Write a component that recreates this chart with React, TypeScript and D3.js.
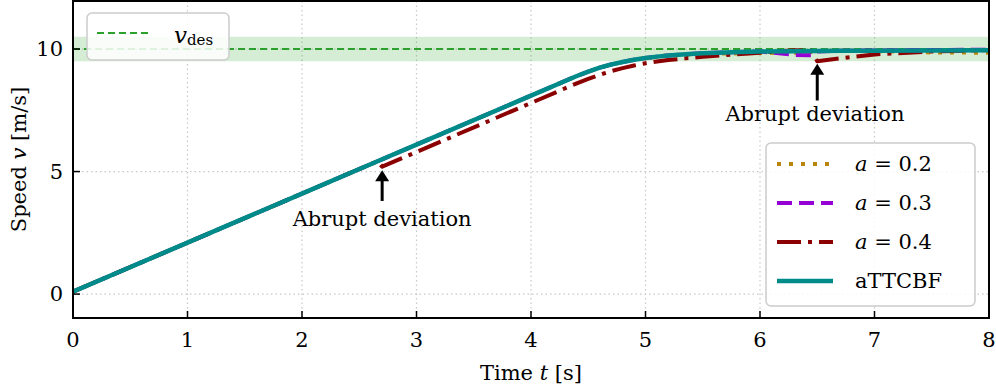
import React from 'react';
import * as d3 from 'd3';

// time samples (s)
const timeA = [0, 1, 2, 2.66, 2.7, 3, 4, 4.4, 4.5, 4.6, 4.7, 4.8, 4.9, 5.0, 5.1, 5.2, 5.35, 5.5, 5.75, 6.0, 6.3, 6.45, 6.5, 6.7, 7.0, 7.5, 8.0];
// speed values (m/s) for each series, same sampling as timeA
const aTTCBF = [0.1, 2.1, 4.1, 5.42, 5.5, 6.1, 8.1, 8.9, 9.08, 9.24, 9.37, 9.47, 9.56, 9.63, 9.69, 9.74, 9.79, 9.83, 9.87, 9.9, 9.91, 9.92, 9.92, 9.93, 9.93, 9.94, 9.95];
const a02 = [0.1, 2.1, 4.1, 5.42, 5.5, 6.1, 8.1, 8.9, 9.08, 9.24, 9.37, 9.47, 9.56, 9.63, 9.69, 9.74, 9.77, 9.8, 9.82, 9.84, 9.85, 9.9, 9.92, 9.93, 9.92, 9.86, 9.85];
const a03 = [0.1, 2.1, 4.1, 5.42, 5.5, 6.1, 8.1, 8.9, 9.08, 9.24, 9.37, 9.47, 9.56, 9.63, 9.69, 9.74, 9.79, 9.83, 9.87, 9.9, 9.76, 9.75, 9.9, 9.93, 9.94, 9.96, 9.97];
const a04 = [0.1, 2.1, 4.1, 5.42, 5.2, 5.8, 7.8, 8.6, 8.78, 8.95, 9.1, 9.22, 9.33, 9.42, 9.49, 9.55, 9.62, 9.68, 9.77, 9.85, 9.95, 9.93, 9.5, 9.62, 9.78, 9.9, 9.96];

const xTicks = [0, 1, 2, 3, 4, 5, 6, 7, 8];
const yTicks = [0, 5, 10];
const vDes = 10;
const vBand = 0.5;

const W = 996;
const H = 389;
const left = 73;
const right = 989;
const top = 1;
const bottom = 318;
const FONT = 'DejaVu Serif, serif';
const FS = 21;

export default function App() {
  const x = d3.scaleLinear().domain([0, 8]).range([left, right]);
  const y = d3.scaleLinear().domain([-0.976, 11.96]).range([bottom, top]);

  const line = d3
    .line<number>()
    .x((_, i) => x(timeA[i]))
    .y((d) => y(d));

  const series = [
    { name: 'a = 0.2', vals: a02, color: '#b8860b', dash: '4,8', w: 4 },
    { name: 'a = 0.3', vals: a03, color: '#9400d3', dash: '15,7', w: 4 },
    { name: 'a = 0.4', vals: a04, color: '#8b0000', dash: '24,7,4,7', w: 4 },
    { name: 'aTTCBF', vals: aTTCBF, color: '#008b8b', dash: undefined, w: 4.5 },
  ];

  return (
    <svg width={W} height={H} style={{ display: 'block', position: 'absolute', left: 0, top: 0, fontFamily: FONT }}>
      <defs>
        <clipPath id="plot">
          <rect x={left} y={top} width={right - left} height={bottom - top} />
        </clipPath>
      </defs>
      <rect width={W} height={H} fill="#fff" />

      {/* grid */}
      {xTicks.map((t) => (
        <line key={'gx' + t} x1={x(t)} x2={x(t)} y1={top} y2={bottom} stroke="#c8c8c8" strokeWidth={1.2} strokeDasharray="1.5,3" />
      ))}
      {yTicks.map((t) => (
        <line key={'gy' + t} x1={left} x2={right} y1={y(t)} y2={y(t)} stroke="#c8c8c8" strokeWidth={1.2} strokeDasharray="1.5,3" />
      ))}

      {/* desired speed band */}
      <rect x={left} width={right - left} y={y(vDes + vBand)} height={y(vDes - vBand) - y(vDes + vBand)} fill="#2ca02c" fillOpacity={0.2} />
      <line x1={left} x2={right} y1={y(vDes)} y2={y(vDes)} stroke="#2ca02c" strokeWidth={2} strokeDasharray="7,4" />

      <g clipPath="url(#plot)">
        {series.map((s) => (
          <path key={s.name} d={line(s.vals) || ''} fill="none" stroke={s.color} strokeWidth={s.w} strokeDasharray={s.dash} strokeLinejoin="round" />
        ))}
      </g>

      {/* annotations */}
      <g stroke="#000" strokeWidth={3} fill="#000">
        <line x1={x(2.7)} x2={x(2.7)} y1={y(3.8)} y2={y(4.85)} />
        <path d={`M${x(2.7) - 7},${y(4.6)} L${x(2.7)},${y(5.05)} L${x(2.7) + 7},${y(4.6)} Z`} stroke="none" />
        <line x1={x(6.5)} x2={x(6.5)} y1={y(7.9)} y2={y(9.2)} />
        <path d={`M${x(6.5) - 7},${y(8.95)} L${x(6.5)},${y(9.4)} L${x(6.5) + 7},${y(8.95)} Z`} stroke="none" />
      </g>
      <text x={x(2.7)} y={y(3.05)} fontSize={FS} textAnchor="middle" dominantBaseline="central">Abrupt deviation</text>
      <text x={x(6.48)} y={y(7.35)} fontSize={FS} textAnchor="middle" dominantBaseline="central">Abrupt deviation</text>

      {/* frame */}
      <rect x={left} y={top} width={right - left} height={bottom - top} fill="none" stroke="#000" strokeWidth={2} />

      {/* ticks */}
      {xTicks.map((t) => (
        <g key={'tx' + t}>
          <line x1={x(t)} x2={x(t)} y1={bottom} y2={bottom - 7} stroke="#000" strokeWidth={1.5} />
          <text x={x(t)} y={bottom + 22} fontSize={FS} textAnchor="middle" dominantBaseline="central">{t}</text>
        </g>
      ))}
      {yTicks.map((t) => (
        <g key={'ty' + t}>
          <line x1={left} x2={left + 7} y1={y(t)} y2={y(t)} stroke="#000" strokeWidth={1.5} />
          <text x={left - 10} y={y(t)} fontSize={FS} textAnchor="end" dominantBaseline="central">{t}</text>
        </g>
      ))}

      {/* axis labels */}
      <text x={(left + right) / 2} y={373} fontSize={FS} textAnchor="middle" dominantBaseline="central">
        Time <tspan fontStyle="italic">t</tspan> [s]
      </text>
      <text transform={`translate(19,${(top + bottom) / 2}) rotate(-90)`} fontSize={FS} textAnchor="middle" dominantBaseline="central">
        Speed <tspan fontStyle="italic">v</tspan> [m/s]
      </text>

      {/* legend: desired speed */}
      <g>
        <rect x={87} y={13} width={142} height={47} rx={5} fill="#fff" fillOpacity={0.85} stroke="#ccc" strokeWidth={1.5} />
        <line x1={97} x2={152} y1={33} y2={33} stroke="#2ca02c" strokeWidth={2} strokeDasharray="7,4" />
        <text x={174} y={35} fontSize={FS + 2} dominantBaseline="central">
          <tspan fontStyle="italic">v</tspan>
          <tspan fontSize={15} dy={5}>des</tspan>
        </text>
      </g>

      {/* legend: series */}
      <g>
        <rect x={766} y={143} width={209} height={163} rx={5} fill="#fff" fillOpacity={0.85} stroke="#ccc" strokeWidth={1.5} />
        {series.map((s, i) => {
          const ly = 164 + i * 39;
          const parts = s.name.split(' = ');
          return (
            <g key={'lg' + s.name}>
              <line x1={777} x2={833} y1={ly} y2={ly} stroke={s.color} strokeWidth={s.w} strokeDasharray={s.dash} />
              <text x={855} y={ly} fontSize={FS} dominantBaseline="central">
                {parts.length > 1 ? (
                  <>
                    <tspan fontStyle="italic">{parts[0]}</tspan> = {parts[1]}
                  </>
                ) : (
                  s.name
                )}
              </text>
            </g>
          );
        })}
      </g>
    </svg>
  );
}
